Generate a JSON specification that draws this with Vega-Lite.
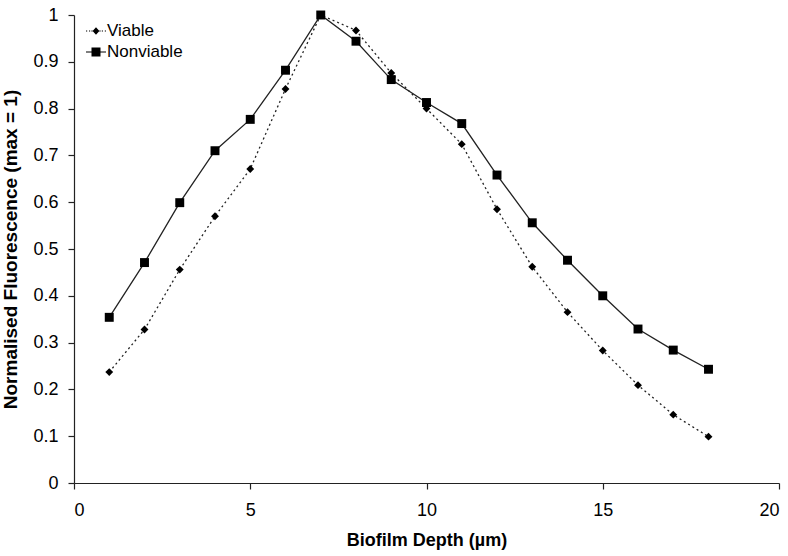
{
  "$schema": "https://vega.github.io/schema/vega-lite/v6.json",
  "width": 705,
  "height": 468,
  "autosize": {"type": "none"},
  "padding": {"left": 74, "top": 15, "right": 9, "bottom": 73},
  "background": "white",
  "config": {
    "font": "Liberation Sans",
    "view": {"stroke": null},
    "axis": {"grid": false, "domainColor": "#222", "tickColor": "#222", "labelColor": "#000", "titleColor": "#000", "labelFont": "Liberation Sans", "titleFont": "Liberation Sans", "labelFontSize": 18, "titleFontSize": 18, "titleFontWeight": "bold", "tickSize": 6, "domainWidth": 1.2, "tickWidth": 1.2}
  },
  "data": {
    "values": [
      {"depth": 1, "series": "Viable", "value": 0.237},
      {"depth": 2, "series": "Viable", "value": 0.328},
      {"depth": 3, "series": "Viable", "value": 0.456},
      {"depth": 4, "series": "Viable", "value": 0.570},
      {"depth": 5, "series": "Viable", "value": 0.671},
      {"depth": 6, "series": "Viable", "value": 0.842},
      {"depth": 7, "series": "Viable", "value": 1.0},
      {"depth": 8, "series": "Viable", "value": 0.967},
      {"depth": 9, "series": "Viable", "value": 0.876},
      {"depth": 10, "series": "Viable", "value": 0.800},
      {"depth": 11, "series": "Viable", "value": 0.724},
      {"depth": 12, "series": "Viable", "value": 0.585},
      {"depth": 13, "series": "Viable", "value": 0.462},
      {"depth": 14, "series": "Viable", "value": 0.365},
      {"depth": 15, "series": "Viable", "value": 0.283},
      {"depth": 16, "series": "Viable", "value": 0.209},
      {"depth": 17, "series": "Viable", "value": 0.146},
      {"depth": 18, "series": "Viable", "value": 0.099},
      {"depth": 1, "series": "Nonviable", "value": 0.354},
      {"depth": 2, "series": "Nonviable", "value": 0.471},
      {"depth": 3, "series": "Nonviable", "value": 0.599},
      {"depth": 4, "series": "Nonviable", "value": 0.710},
      {"depth": 5, "series": "Nonviable", "value": 0.777},
      {"depth": 6, "series": "Nonviable", "value": 0.882},
      {"depth": 7, "series": "Nonviable", "value": 1.0},
      {"depth": 8, "series": "Nonviable", "value": 0.944},
      {"depth": 9, "series": "Nonviable", "value": 0.862},
      {"depth": 10, "series": "Nonviable", "value": 0.813},
      {"depth": 11, "series": "Nonviable", "value": 0.768},
      {"depth": 12, "series": "Nonviable", "value": 0.658},
      {"depth": 13, "series": "Nonviable", "value": 0.556},
      {"depth": 14, "series": "Nonviable", "value": 0.476},
      {"depth": 15, "series": "Nonviable", "value": 0.400},
      {"depth": 16, "series": "Nonviable", "value": 0.329},
      {"depth": 17, "series": "Nonviable", "value": 0.284},
      {"depth": 18, "series": "Nonviable", "value": 0.243}
    ]
  },
  "encoding": {
    "x": {"field": "depth", "type": "quantitative", "scale": {"domain": [0, 20], "nice": false}, "axis": {"values": [0, 5, 10, 15, 20], "title": "Biofilm Depth (µm)", "labelPadding": 12, "titleY": 48}},
    "y": {"field": "value", "type": "quantitative", "scale": {"domain": [0, 1], "nice": false}, "axis": {"values": [0, 0.1, 0.2, 0.3, 0.4, 0.5, 0.6, 0.7, 0.8, 0.9, 1], "format": ".1~f", "title": "Normalised Fluorescence (max = 1)", "labelPadding": 10, "titleX": -54, "titleFontSize": 19}}
  },
  "layer": [
    {
      "transform": [{"filter": "datum.series === 'Viable'"}],
      "mark": {"type": "line", "color": "#222", "strokeWidth": 1.3, "strokeDash": [2, 3]},
      "encoding": {}
    },
    {
      "transform": [{"filter": "datum.series === 'Nonviable'"}],
      "mark": {"type": "line", "color": "#222", "strokeWidth": 1.3},
      "encoding": {}
    },
    {
      "transform": [{"filter": "datum.series === 'Viable'"}],
      "mark": {"type": "point", "filled": true, "opacity": 1, "size": 62, "shape": "diamond", "color": "#000"},
      "encoding": {}
    },
    {
      "transform": [{"filter": "datum.series === 'Nonviable'"}],
      "mark": {"type": "point", "filled": true, "opacity": 1, "size": 80, "shape": "square", "color": "#000"},
      "encoding": {}
    },
    {
      "mark": {"type": "point", "filled": true, "opacity": 0, "size": 1, "color": "#000"},
      "encoding": {
        "shape": {"field": "series", "type": "nominal", "scale": {"domain": ["Viable", "Nonviable"], "range": [
          "M-1,-0.06h0.12v0.12h-0.12ZM-0.7,-0.06h0.12v0.12h-0.12ZM-0.46,-0.06h0.12v0.12h-0.12ZM0.34,-0.06h0.12v0.12h-0.12ZM0.58,-0.06h0.12v0.12h-0.12ZM0.88,-0.06h0.12v0.12h-0.12ZM0,-0.38L0.34,0L0,0.38L-0.34,0Z",
          "M-1,-0.06H1V0.06H-1ZM-0.45,-0.45H0.45V0.45H-0.45Z"]},
          "legend": {"title": null, "orient": "none", "legendX": 11, "legendY": 5, "padding": 0, "labelFontSize": 17, "labelColor": "#000", "labelFont": "Liberation Sans", "symbolSize": 400, "rowPadding": 2, "labelOffset": 0, "values": ["Viable", "Nonviable"],
            "encode": {"symbols": {"update": {
              "size": {"value": 400},
              "fill": {"value": "#000"},
              "fillOpacity": {"value": 1},
              "strokeWidth": {"value": 0},
              "opacity": {"value": 1}
            }}}}}
      }
    }
  ]
}
